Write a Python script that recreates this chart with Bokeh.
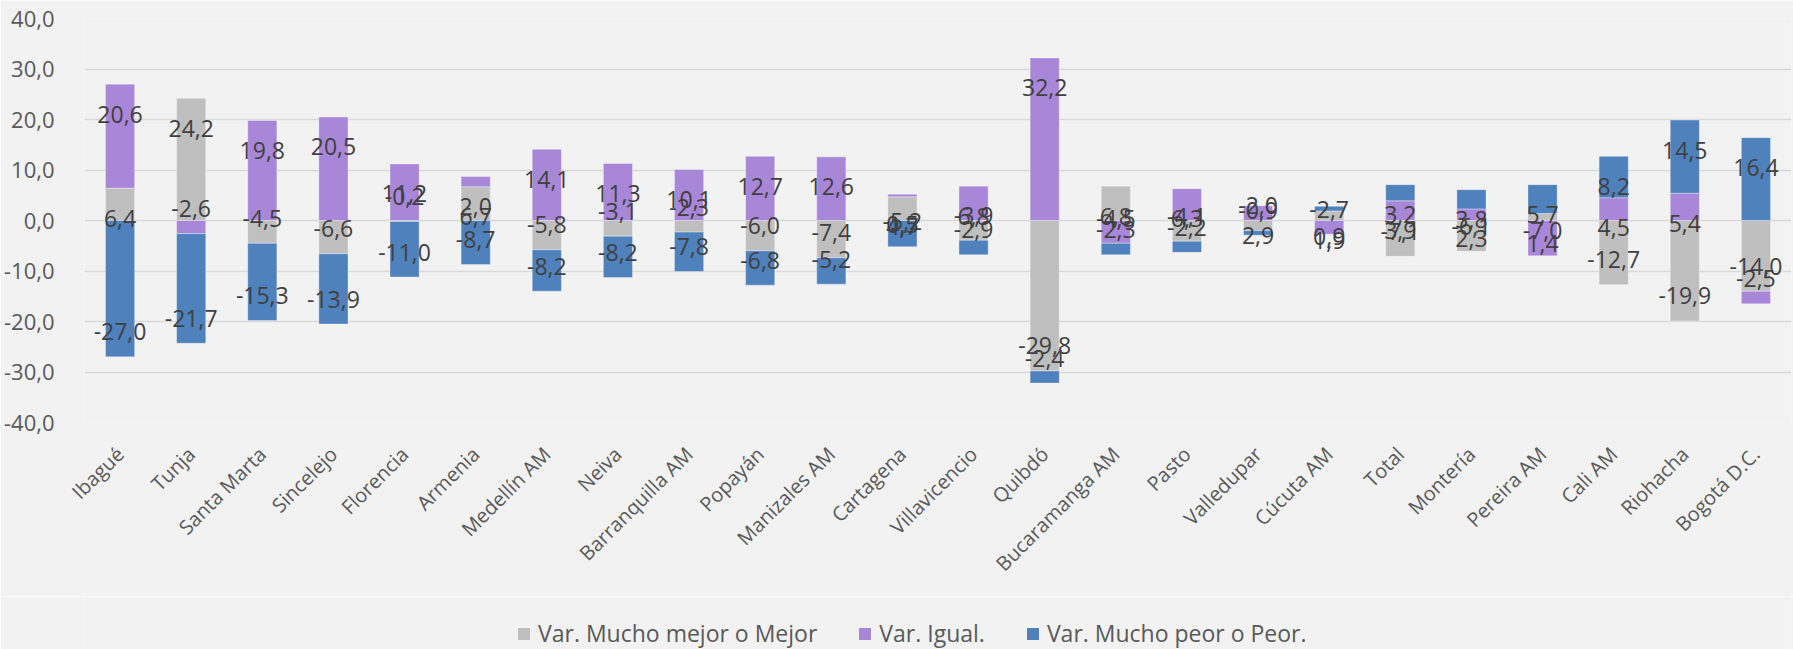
import math
from bokeh.plotting import figure
from bokeh.layouts import column
from bokeh.core.properties import value
from bokeh.models import (ColumnDataSource, LabelSet, Range1d, FactorRange, SingleIntervalTicker,
                          CustomJSTickFormatter, Legend, LegendItem)
from bokeh.embed import file_html
from bokeh.resources import INLINE

categories = ["Ibagué", "Tunja", "Santa Marta", "Sincelejo", "Florencia", "Armenia",
              "Medellín AM", "Neiva", "Barranquilla AM", "Popayán", "Manizales AM",
              "Cartagena", "Villavicencio", "Quibdó", "Bucaramanga AM", "Pasto",
              "Valledupar", "Cúcuta AM", "Total", "Montería", "Pereira AM", "Cali AM",
              "Riohacha", "Bogotá D.C."]

mejor = [6.4, 24.2, -4.5, -6.6, -0.2, 6.7, -5.8, -3.1, -2.3, -6.0, -7.4, 4.7,
         -3.9, -29.8, 6.8, -4.1, -2.0, 1.9, -7.1, -6.1, 1.4, -12.7, -19.9, -14.0]
igual = [20.6, -2.6, 19.8, 20.5, 11.2, 2.0, 14.1, 11.3, 10.1, 12.7, 12.6, 0.5,
         6.8, 32.2, -4.5, 6.3, 2.9, -2.7, 3.9, 2.3, -7.0, 4.5, 5.4, -2.5]
peor = [-27.0, -21.7, -15.3, -13.9, -11.0, -8.7, -8.2, -8.2, -7.8, -6.8, -5.2, -5.2,
        -2.9, -2.4, -2.3, -2.2, -0.9, 0.9, 3.2, 3.8, 5.7, 8.2, 14.5, 16.4]

series_names = ["Var. Mucho mejor o Mejor", "Var. Igual.", "Var. Mucho peor o Peor."]
series_values = [mejor, igual, peor]
colors = ["#bfbfbf", "#a886d8", "#4f81bd"]

FONT = "Open Sans"
BG = "#f2f2f2"
W = 1793
H_MAIN, H_LEG = 596, 53

p = figure(width=W, height=H_MAIN, output_backend="svg", toolbar_location=None,
           x_range=FactorRange(*categories, range_padding=0),
           y_range=Range1d(-40, 40),
           background_fill_color=BG, border_fill_color=BG,
           outline_line_color=None,
           min_border_left=84, min_border_right=2, min_border_top=18, min_border_bottom=174)

# Excel-style stacking: positives up from zero, negatives down from zero
pos_base = [0.0] * len(categories)
neg_base = [0.0] * len(categories)
items = []
for name, vals, col in zip(series_names, series_values, colors):
    bottoms, tops, offs, texts = [], [], [], []
    for i, v in enumerate(vals):
        if v >= 0:
            b = pos_base[i]
            t = b + v
            pos_base[i] = t
            offs.append(-30)
        else:
            b = neg_base[i]
            t = b + v
            neg_base[i] = t
            offs.append(25)
        bottoms.append(b)
        tops.append(t)
        texts.append(f"{v:.1f}".replace(".", ","))
    src = ColumnDataSource(dict(x=categories, bottom=bottoms, top=tops, off=offs, text=texts))
    p.vbar(x="x", bottom="bottom", top="top", width=0.41, source=src,
           fill_color=col, line_color="white", line_alpha=0.35, line_width=1)
    items.append((name, col, src))

for name, col, src in items:
    lab = LabelSet(x="x", y="top", text="text", y_offset="off", source=src,
                   text_align="center", text_baseline="middle",
                   text_font=value(FONT), text_font_size=value("23px"), text_color="#404040")
    p.add_layout(lab)

p.yaxis.ticker = SingleIntervalTicker(interval=10)
p.yaxis.formatter = CustomJSTickFormatter(code="return tick.toFixed(1).replace('.', ',');")
p.yaxis.axis_line_color = None
p.yaxis.major_tick_line_color = None
p.yaxis.minor_tick_line_color = None
p.yaxis.major_label_standoff = 24
p.yaxis.major_label_text_font = FONT
p.yaxis.major_label_text_font_size = "22px"
p.yaxis.major_label_text_color = "#595959"

p.xaxis.axis_line_color = None
p.xaxis.major_tick_line_color = None
p.xaxis.major_label_orientation = math.pi / 4
p.xaxis.major_label_standoff = 22
p.xaxis.major_label_text_font = FONT
p.xaxis.major_label_text_font_size = "20px"
p.xaxis.major_label_text_color = "#595959"

p.xgrid.grid_line_color = None
p.ygrid.grid_line_color = "#d9d9d9"
p.ygrid.grid_line_width = 1.5

# legend strip below the chart (legend swatches come from zero-height bars)
pl = figure(width=W, height=H_LEG, output_backend="svg", toolbar_location=None,
            x_range=Range1d(0, 1), y_range=Range1d(0, 1),
            background_fill_color=BG, border_fill_color=BG, outline_line_color=None,
            min_border_left=0, min_border_right=0, min_border_top=0, min_border_bottom=0,
            x_axis_type=None, y_axis_type=None)
pl.grid.visible = False
leg_items = []
for name, col, src in items:
    rr = pl.vbar(x=[0], top=[0], bottom=[0], width=0.0, fill_color=col, line_color=None)
    leg_items.append(LegendItem(label=name, renderers=[rr]))
legend = Legend(items=leg_items, orientation="horizontal", location=(432, 0),
                background_fill_alpha=0, border_line_color=None,
                label_text_font=FONT, label_text_font_size="23px", label_text_color="#595959",
                glyph_width=15, glyph_height=15, spacing=40, padding=0, margin=0,
                label_standoff=7, label_height=20)
pl.add_layout(legend, "center")

layout = column(p, pl, spacing=0)
open("out.html", "w").write(file_html(layout, INLINE))
